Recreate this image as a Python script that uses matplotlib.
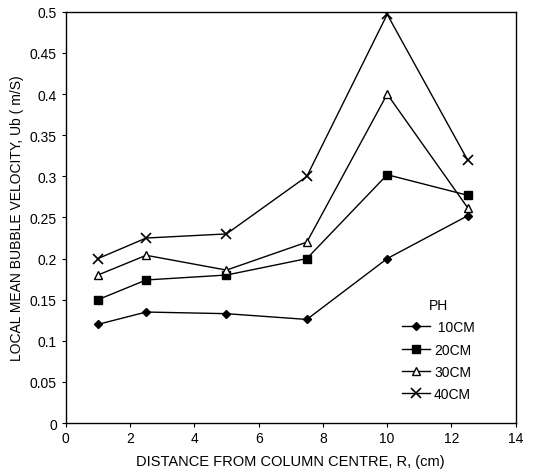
import matplotlib
matplotlib.use("Agg")
import matplotlib.pyplot as plt

plt.rcParams['font.family'] = ['Liberation Sans', 'DejaVu Sans']

r = [1, 2.5, 5, 7.5, 10, 12.5]
ub_10 = [0.12, 0.135, 0.133, 0.126, 0.20, 0.252]
ub_20 = [0.15, 0.174, 0.180, 0.200, 0.302, 0.277]
ub_30 = [0.18, 0.204, 0.186, 0.220, 0.400, 0.262]
ub_40 = [0.20, 0.225, 0.230, 0.300, 0.497, 0.320]
labels = [' 10CM', '20CM', '30CM', '40CM']
xticks = [0, 2, 4, 6, 8, 10, 12, 14]
yticks = [0, 0.05, 0.1, 0.15, 0.2, 0.25, 0.3, 0.35, 0.4, 0.45, 0.5]
ytick_labels = ['0', '0.05', '0.1', '0.15', '0.2', '0.25', '0.3', '0.35', '0.4', '0.45', '0.5']

fig = plt.figure(figsize=(5.35, 4.77), dpi=100)
ax = fig.add_axes([0.123, 0.111, 0.841, 0.862])

ax.plot(r, ub_10, color='black', lw=1, marker='D', ms=4, mfc='black', label=labels[0])
ax.plot(r, ub_20, color='black', lw=1, marker='s', ms=6, mfc='black', label=labels[1])
ax.plot(r, ub_30, color='black', lw=1, marker='^', ms=6, mfc='white', label=labels[2])
ax.plot(r, ub_40, color='black', lw=1, marker='x', ms=7, mew=1.2, label=labels[3])

ax.set_xlim(0, 14)
ax.set_ylim(0, 0.5)
ax.set_xticks(xticks)
ax.set_yticks(yticks)
ax.set_xticklabels([str(v) for v in xticks])
ax.set_yticklabels(ytick_labels)
ax.tick_params(axis='both', direction='out', length=3, labelsize=10, width=0.8)
ax.tick_params(axis='x', pad=3)
for s in ax.spines.values():
    s.set_linewidth(1.0)

ax.set_xlabel('DISTANCE FROM COLUMN CENTRE, R, (cm)', fontsize=10.5, labelpad=6)
ax.set_ylabel('LOCAL MEAN BUBBLE VELOCITY, Ub ( m/S)', fontsize=10, labelpad=4)

leg = ax.legend(title='PH', loc='upper left', bbox_to_anchor=(0.735, 0.318), frameon=False,
                fontsize=10, title_fontsize=10, handlelength=2.0, handletextpad=0.3,
                labelspacing=0.6, borderaxespad=0)

fig.savefig('out.png', dpi=100)
